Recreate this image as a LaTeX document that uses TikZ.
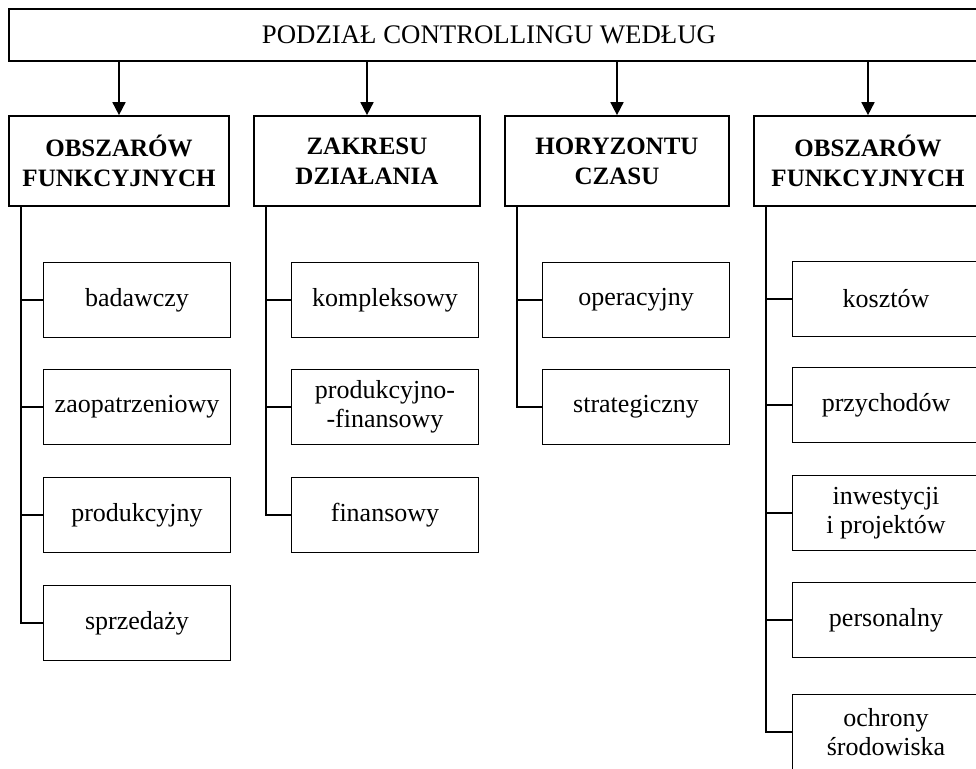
\documentclass[tikz,border=0pt]{standalone}
\usepackage{fontspec}
\setmainfont{Liberation Serif}
\usetikzlibrary{arrows.meta}

\tikzset{
  box/.style={draw, line width=1.7pt, align=center, inner sep=0pt},
  topbox/.style={box, minimum height=52pt, font=\fontsize{26.8}{30}\selectfont},
  catbox/.style={box, minimum height=90pt, font=\bfseries\fontsize{25}{30}\selectfont},
  leafbox/.style={box, minimum width=187pt, minimum height=75pt, font=\fontsize{26}{29}\selectfont},
  arr/.style={line width=1.7pt, -{Triangle[width=13pt,length=13pt]}},
  branch/.style={line width=1.7pt}
}

\begin{document}
\begin{tikzpicture}[x=1pt, y=-1pt]
\useasboundingbox (0,0) rectangle (976,768);
\clip (0,0) rectangle (976,768);

% heading
\node[topbox, minimum width=971pt] (top) at (494.5,35) {\hspace*{-11pt}PODZIAŁ CONTROLLINGU WEDŁUG};

% criteria
\node[catbox, minimum width=220pt] (c1) at (119,161) {OBSZARÓW\\FUNKCYJNYCH};
\node[catbox, minimum width=226pt] (c2) at (367,161) {ZAKRESU\\DZIAŁANIA};
\node[catbox, minimum width=224pt] (c3) at (617,161) {HORYZONTU\\CZASU};
\node[catbox, minimum width=228pt] (c4) at (868,161) {OBSZARÓW\\FUNKCYJNYCH};

\foreach \c in {c1,c2,c3,c4}
  \draw[arr] (top.south -| \c.north) -- (\c.north);

% first column
\node[leafbox] (a1) at (137,300) {badawczy};
\node[leafbox] (a2) at (137,407) {zaopatrzeniowy};
\node[leafbox] (a3) at (137,515) {produkcyjny};
\node[leafbox] (a4) at (137,623) {sprzedaży};

% second column
\node[leafbox] (b1) at (385,300) {kompleksowy};
\node[leafbox] (b2) at (385,407) {produkcyjno-\\-finansowy};
\node[leafbox] (b3) at (385,515) {finansowy};

% third column
\node[leafbox] (d1) at (636,300) {operacyjny};
\node[leafbox] (d2) at (636,407) {strategiczny};

% fourth column
\node[leafbox] (e1) at (886,299) {kosztów};
\node[leafbox] (e2) at (886,405) {przychodów};
\node[leafbox] (e3) at (886,513) {inwestycji\\i projektów};
\node[leafbox] (e4) at (886,620) {personalny};
\node[leafbox] (e5) at (886,732) {ochrony\\środowiska};

% tree branches
\foreach \l in {a1,a2,a3,a4}
  \draw[branch] (\l.west) -| ([xshift=13pt]c1.south west);
\foreach \l in {b1,b2,b3}
  \draw[branch] (\l.west) -| ([xshift=13pt]c2.south west);
\foreach \l in {d1,d2}
  \draw[branch] (\l.west) -| ([xshift=13pt]c3.south west);
\foreach \l in {e1,e2,e3,e4,e5}
  \draw[branch] (\l.west) -| ([xshift=13pt]c4.south west);
\end{tikzpicture}
\end{document}
